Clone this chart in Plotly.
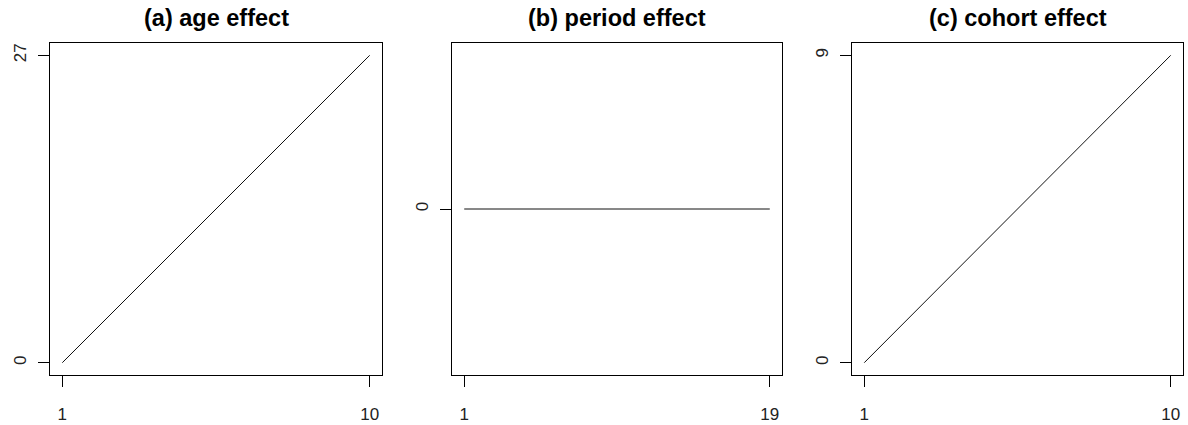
import plotly.graph_objects as go

# data
age_x = [1, 2, 3, 4, 5, 6, 7, 8, 9, 10]
age_y = [0, 3, 6, 9, 12, 15, 18, 21, 24, 27]
period_x = list(range(1, 20))
period_y = [0] * 19
cohort_x = [1, 2, 3, 4, 5, 6, 7, 8, 9, 10]
cohort_y = [0, 1, 2, 3, 4, 5, 6, 7, 8, 9]
titles = ["(a) age effect", "(b) period effect", "(c) cohort effect"]

W, H = 1188, 425
boxes_x = [(50, 382), (452, 782), (852, 1183)]
box_top, box_bottom = 43, 375

def pad(lo, hi):
    if lo == hi:
        lo, hi = lo - 1, hi + 1
    d = (hi - lo) * 0.04
    return [lo - d, hi + d]

series = [(age_x, age_y), (period_x, period_y), (cohort_x, cohort_y)]
fig = go.Figure()
font = "Liberation Sans, Arial, sans-serif"
layout = dict(width=W, height=H, margin=dict(l=0, r=0, t=0, b=0),
              paper_bgcolor="white", plot_bgcolor="white", showlegend=False,
              font=dict(family=font, size=17, color="#222"))
annotations = []
for i, (xs, ys) in enumerate(series):
    sfx = "" if i == 0 else str(i + 1)
    fig.add_trace(go.Scatter(x=xs, y=ys, mode="lines",
                             line=dict(color="#111", width=1),
                             xaxis="x" + sfx, yaxis="y" + sfx, hoverinfo="skip"))
    x0, x1 = boxes_x[i]
    axcommon = dict(showgrid=False, zeroline=False, showline=True, mirror=True,
                    linecolor="black", linewidth=1, ticks="outside", ticklen=11,
                    tickcolor="black", tickwidth=1,
                    tickfont=dict(family=font, size=17, color="#222"))
    ymin, ymax = min(ys), max(ys)
    yticks = [ymin] if ymin == ymax else [ymin, ymax]
    layout["xaxis" + sfx] = dict(axcommon, domain=[x0 / W, x1 / W], anchor="y" + sfx,
                                 range=pad(min(xs), max(xs)),
                                 tickvals=[min(xs), max(xs)],
                                 ticktext=[str(min(xs)), str(max(xs))],
                                 ticklabelstandoff=13)
    layout["yaxis" + sfx] = dict(axcommon, domain=[1 - box_bottom / H, 1 - box_top / H],
                                 anchor="x" + sfx, range=pad(ymin, ymax),
                                 tickvals=yticks, ticktext=[str(v) for v in yticks],
                                 tickangle=-90, ticklabelstandoff=5)
    annotations.append(dict(text="<b>" + titles[i] + "</b>", xref="paper", yref="paper",
                            x=(x0 + x1) / 2 / W, y=1 - 18 / H, xanchor="center",
                            yanchor="middle", showarrow=False,
                            font=dict(family=font, size=23.5, color="black")))
layout["annotations"] = annotations
fig.update_layout(**layout)
fig.write_html("out.html", config={"displayModeBar": False},
               post_script="document.body.style.margin='0';")
